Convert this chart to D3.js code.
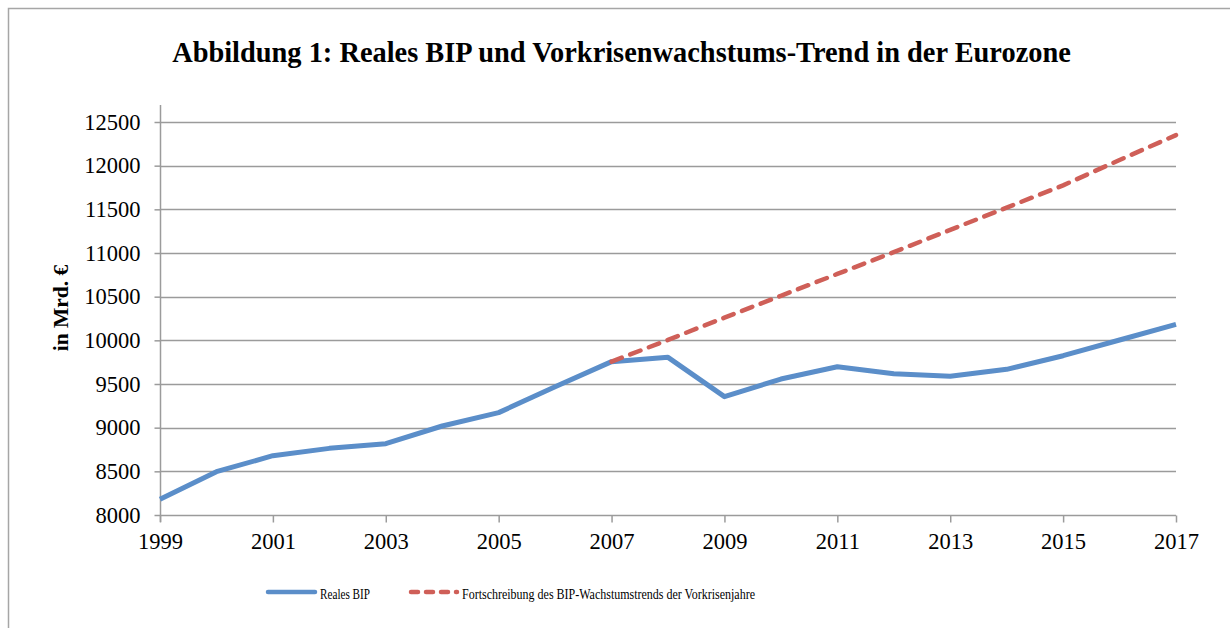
<!DOCTYPE html>
<html>
<head>
<meta charset="utf-8">
<script src="https://cdn.jsdelivr.net/npm/d3@7"></script>
<style>
  html, body { margin: 0; padding: 0; background: #fff; }
  svg { display: block; }
  text { font-family: "Liberation Serif", "Times New Roman", serif; fill: #000; }
</style>
</head>
<body>
<svg id="chart" width="1230" height="628"></svg>
<script>
// ---- data ----
const years = [1999, 2000, 2001, 2002, 2003, 2004, 2005, 2006, 2007, 2008, 2009, 2010, 2011, 2012, 2013, 2014, 2015, 2016, 2017];
const realesBIP = [8180, 8496, 8679, 8763, 8817, 9019, 9172, 9469, 9756, 9805, 9355, 9557, 9698, 9618, 9588, 9668, 9824, 10004, 10183];
const trendYears = [2007, 2008, 2009, 2010, 2011, 2012, 2013, 2014, 2015, 2016, 2017];
const trendValues = [9756, 10005, 10260, 10510, 10760, 11010, 11265, 11520, 11775, 12065, 12350];
const yTicks = [8000, 8500, 9000, 9500, 10000, 10500, 11000, 11500, 12000, 12500];
const xTicks = [1999, 2001, 2003, 2005, 2007, 2009, 2011, 2013, 2015, 2017];
const titleText = "Abbildung 1: Reales BIP und Vorkrisenwachstums-Trend in der Eurozone";
const yLabel = "in Mrd. €";
const seriesNames = ["Reales BIP", "Fortschreibung des BIP-Wachstumstrends der Vorkrisenjahre"];

(function () {
// ---- layout ----
const svg = d3.select("#chart");
const pLeft = 160, pRight = 1176, pTop = 122, pBottom = 515;
const gridColor = "#9b9b9b";
const blue = "#5b8ec9", red = "#cf5f58";

// outer frame (only left and top visible)
svg.append("path")
  .attr("d", "M8.5,628 L8.5,8.5 L1230,8.5")
  .attr("fill", "none").attr("stroke", "#a6a6a6").attr("stroke-width", 1.5);

const x = d3.scaleLinear().domain([1999, 2017]).range([pLeft, pRight]);
const y = d3.scaleLinear().domain([8000, 12500]).range([pBottom, pTop]);

// title
svg.append("text")
  .attr("x", 621.5).attr("y", 62)
  .attr("text-anchor", "middle")
  .attr("font-weight", "bold").attr("font-size", 28.4)
  .text(titleText);

// gridlines
svg.append("g").selectAll("line").data(yTicks.slice(1)).join("line")
  .attr("x1", pLeft).attr("x2", pRight)
  .attr("y1", d => Math.round(y(d)) + 0.5).attr("y2", d => Math.round(y(d)) + 0.5)
  .attr("stroke", gridColor).attr("stroke-width", 1.5);

// y axis
const yAxis = d3.axisLeft(y).tickValues(yTicks).tickSize(6).tickPadding(14).tickFormat(d3.format("d"));
const gy = svg.append("g").attr("transform", `translate(${pLeft + 0.5},0)`).call(yAxis);
gy.select(".domain").remove();
gy.selectAll(".tick line").attr("stroke", gridColor).attr("stroke-width", 1.5);
gy.selectAll(".tick text").attr("font-size", 22.5).attr("font-family", "Liberation Serif").attr("fill", "#000");
svg.append("line").attr("x1", pLeft + 0.5).attr("x2", pLeft + 0.5).attr("y1", 105).attr("y2", pBottom + 7)
  .attr("stroke", gridColor).attr("stroke-width", 1.5);

// x axis
const xAxis = d3.axisBottom(x).tickValues(xTicks).tickSize(7).tickPadding(11).tickFormat(d3.format("d"));
const gx = svg.append("g").attr("transform", `translate(0,${pBottom + 0.5})`).call(xAxis);
gx.select(".domain").remove();
gx.selectAll(".tick line").attr("stroke", gridColor).attr("stroke-width", 1.5);
gx.selectAll(".tick text").attr("font-size", 22.5).attr("font-family", "Liberation Serif").attr("fill", "#000");
svg.append("line").attr("x1", pLeft).attr("x2", pRight).attr("y1", pBottom + 0.5).attr("y2", pBottom + 0.5)
  .attr("stroke", gridColor).attr("stroke-width", 1.5);

// y label
svg.append("text")
  .attr("transform", "translate(68,308) rotate(-90)")
  .attr("text-anchor", "middle")
  .attr("font-weight", "bold").attr("font-size", 21.5)
  .text(yLabel);

// lines
const line = d3.line().x(d => x(d[0])).y(d => y(d[1]));
svg.append("path")
  .datum(years.map((yr, i) => [yr, realesBIP[i]]))
  .attr("d", line).attr("fill", "none").attr("stroke", blue)
  .attr("stroke-width", 5).attr("stroke-linejoin", "round");
svg.append("path")
  .datum(trendYears.map((yr, i) => [yr, trendValues[i]]))
  .attr("d", line).attr("fill", "none").attr("stroke", red)
  .attr("stroke-width", 4.5).attr("stroke-linecap", "round")
  .attr("stroke-dasharray", "11,9");

// legend
const lg = svg.append("g");
lg.append("line").attr("x1", 268).attr("x2", 315).attr("y1", 592).attr("y2", 592)
  .attr("stroke", blue).attr("stroke-width", 4.5).attr("stroke-linecap", "round");
lg.append("text").attr("x", 320).attr("y", 599).attr("font-size", 14.5)
  .attr("textLength", 50).attr("lengthAdjust", "spacingAndGlyphs").text(seriesNames[0]);
lg.append("line").attr("x1", 411).attr("x2", 457).attr("y1", 592).attr("y2", 592)
  .attr("stroke", red).attr("stroke-width", 4.5).attr("stroke-linecap", "round")
  .attr("stroke-dasharray", "7,8");
lg.append("text").attr("x", 462).attr("y", 599).attr("font-size", 14.5)
  .attr("textLength", 293).attr("lengthAdjust", "spacingAndGlyphs").text(seriesNames[1]);
})();
</script>
</body>
</html>
